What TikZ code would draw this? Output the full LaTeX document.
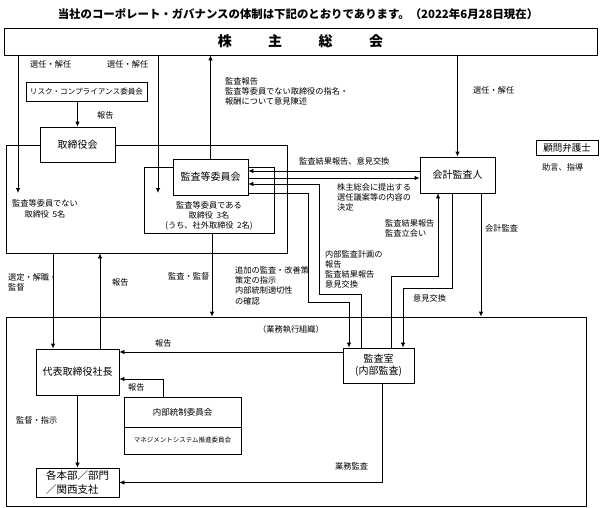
\documentclass[tikz,border=0pt]{standalone}
\usepackage{fontspec}
\setmainfont{Noto Sans CJK JP}
\usetikzlibrary{arrows.meta}
\newcommand{\LblFont}{\fontsize{8.2}{10.3}\selectfont}
\newcommand{\BoxFont}{\fontsize{10}{12}\selectfont}
\newcommand{\Gap}{\hspace{3.5pt}}
\tikzset{
	cbox/.style={draw, line width=0.8pt, inner sep=0pt, align=center, font=\BoxFont},
	wrap/.style={draw, line width=0.8pt, inner sep=0pt},
	lbl/.style={inner sep=0pt, anchor=north west, align=left, font=\LblFont},
	arr/.style={line width=0.8pt, -{Latex[length=5pt,width=4.5pt]}}
}
\begin{document}
\begin{tikzpicture}[x=1pt, y=-1pt]
		\useasboundingbox (0,0) rectangle (600,507);

		% Define frames
		\node[wrap, minimum width=281pt, minimum height=108pt] (bframe) at (146.5,199) {};
		\node[wrap, minimum width=130pt, minimum height=66pt] (acframe) at (209,200) {};
		\node[wrap, minimum width=580pt, minimum height=189pt] (exec) at (296,411.5) {};

		% Define nodes
		\node[font=\bfseries\fontsize{11.4}{13}\selectfont] (title) at (298,14) {当社のコーポレート・ガバナンスの体制は下記のとおりであります。（2022年6月28日現在）};
		\node[wrap, minimum width=593pt, minimum height=27pt, font=\bfseries\fontsize{14}{16}\selectfont] (sh) at (300.5,41.5) {株\hspace{36.5pt}主\hspace{36.5pt}総\hspace{36.5pt}会};
		\node[cbox, minimum width=121pt, minimum height=19pt, font=\fontsize{7.6}{9}\selectfont] (risk) at (86.5,91.5) {リスク・コンプライアンス委員会};
		\node[cbox, fill=white, minimum width=75pt, minimum height=35pt] (brd) at (77.5,144.5) {取締役会};
		\node[cbox, fill=white, minimum width=75pt, minimum height=36pt] (ac) at (210.5,177) {監査等委員会};
		\node[align=center, inner sep=0pt, font=\LblFont] (acnote) at (209,216) {監査等委員である\\取締役\Gap 3名\\(うち、社外取締役\Gap 2名)};
		\node[align=center, inner sep=0pt, font=\LblFont] (ndnote) at (45,209) {監査等委員でない\\取締役\Gap 5名};
		\node[cbox, minimum width=75pt, minimum height=36pt] (aud) at (457.5,175) {会計監査人};
		\node[cbox, minimum width=62pt, minimum height=15pt, font=\fontsize{9.5}{11}\selectfont] (law) at (567,147.5) {顧問弁護士};
		\node[cbox, fill=white, minimum width=71pt, minimum height=35pt] (ar) at (378.5,365.5) {監査室\\(内部監査)};
		\node[cbox, minimum width=83pt, minimum height=46pt] (ceo) at (77.5,372) {代表取締役社長};
		\node[cbox, minimum width=117pt, minimum height=30pt, font=\fontsize{8.5}{10}\selectfont] (ic) at (182.5,412) {内部統制委員会};
		\node[cbox, minimum width=117pt, minimum height=27pt, font=\fontsize{6.5}{8}\selectfont] (ms) at (182.5,440.5) {マネジメントシステム推進委員会};
		\node[cbox, align=left, minimum width=83pt, minimum height=29pt, font=\fontsize{10.5}{14}\selectfont] (div) at (77.5,482.5) {各本部／部門\\／関西支社};
		\coordinate (nd) at (18,193);
		\coordinate (ad) at (158,193);

		% Define labels
		\node[lbl] (l1) at (30,60) {選任・解任};
		\node[lbl] (l2) at (107,60) {選任・解任};
		\node[lbl] (l3) at (97,111) {報告};
		\node[lbl] (l4) at (225,77) {監査報告\\監査等委員でない取締役の指名・\\報酬について意見陳述};
		\node[lbl] (l5) at (473,86) {選任・解任};
		\node[lbl] (l6) at (299,157) {監査結果報告、意見交換};
		\node[lbl] (l7) at (337,183) {株主総会に提出する\\選任議案等の内容の\\決定};
		\node[lbl] (l8) at (385,219) {監査結果報告\\監査立会い};
		\node[lbl] (l9) at (485,224) {会計監査};
		\node[lbl] (l10) at (542,163) {助言、指導};
		\node[lbl] (l11) at (325,250) {内部監査計画の\\報告\\監査結果報告\\意見交換};
		\node[lbl] (l12) at (413,294) {意見交換};
		\node[lbl] (l13) at (235,266) {追加の監査・改善策\\策定の指示\\内部統制適切性\\の確認};
		\node[lbl] (l14) at (168,272) {監査・監督};
		\node[lbl] (l15) at (8,273) {選定・解職・\\監督};
		\node[lbl] (l16) at (112,278) {報告};
		\node[lbl] (l17) at (258,325) {（業務執行組織）};
		\node[lbl] (l18) at (155,339) {報告};
		\node[lbl] (l19) at (128,383) {報告};
		\node[lbl] (l20) at (16,416) {監督・指示};
		\node[lbl] (l21) at (335,462) {業務監査};

		% Connect the nodes
		\draw[arr] (sh.south -| nd) -- (nd);
		\draw[arr] (sh.south -| ad) -- (ad);
		\draw[arr] (ac.north) -- (ac.north |- sh.south);
		\draw[arr] (aud.north |- sh.south) -- (aud.north);
		\draw[arr] (brd.north |- risk.south) -- (brd.north);
		\draw[arr] ([yshift=4pt]aud.west) -- ([yshift=4pt]aud.west -| ac.east);
		\draw[arr] ([yshift=-3pt]aud.west -| ac.east) -- ([yshift=-3pt]aud.west);
		\draw[arr] ([xshift=-17.5pt]ar.north) |- (319,294) |- ([yshift=-7pt]ac.east);
		\draw[arr] ([yshift=-16pt]ac.east) -| (308,302) -| ([xshift=-29.5pt]ar.north);
		\draw[arr] ([xshift=12.5pt]ar.north) |- (438,276) -- ([xshift=-19.5pt]aud.south);
		\draw[arr] ([xshift=-5.5pt]aud.south) |- (403,288) -- ([xshift=24.5pt]ar.north);
		\draw[arr] ([xshift=23.5pt]aud.south) -- ([xshift=23.5pt]aud.south |- exec.north);
		\draw[arr] ([xshift=3pt]acframe.south) -- ([xshift=3pt]acframe.south |- exec.north);
		\draw[arr] ([xshift=-24.5pt]ceo.north |- bframe.south) -- ([xshift=-24.5pt]ceo.north);
		\draw[arr] ([xshift=22.5pt]ceo.north) -- ([xshift=22.5pt]ceo.north |- bframe.south);
		\draw[arr] ([yshift=13.5pt]ar.west) -- ([yshift=13.5pt]ar.west -| ceo.east);
		\draw[arr] ([xshift=-19.5pt]ic.north) |- ([yshift=-7pt]ceo.east);
		\draw[arr] (ceo.south) -- (div.north);
		\draw[arr] ([xshift=3.5pt]ar.south) |- (div.east);
	\end{tikzpicture}
\end{document}
